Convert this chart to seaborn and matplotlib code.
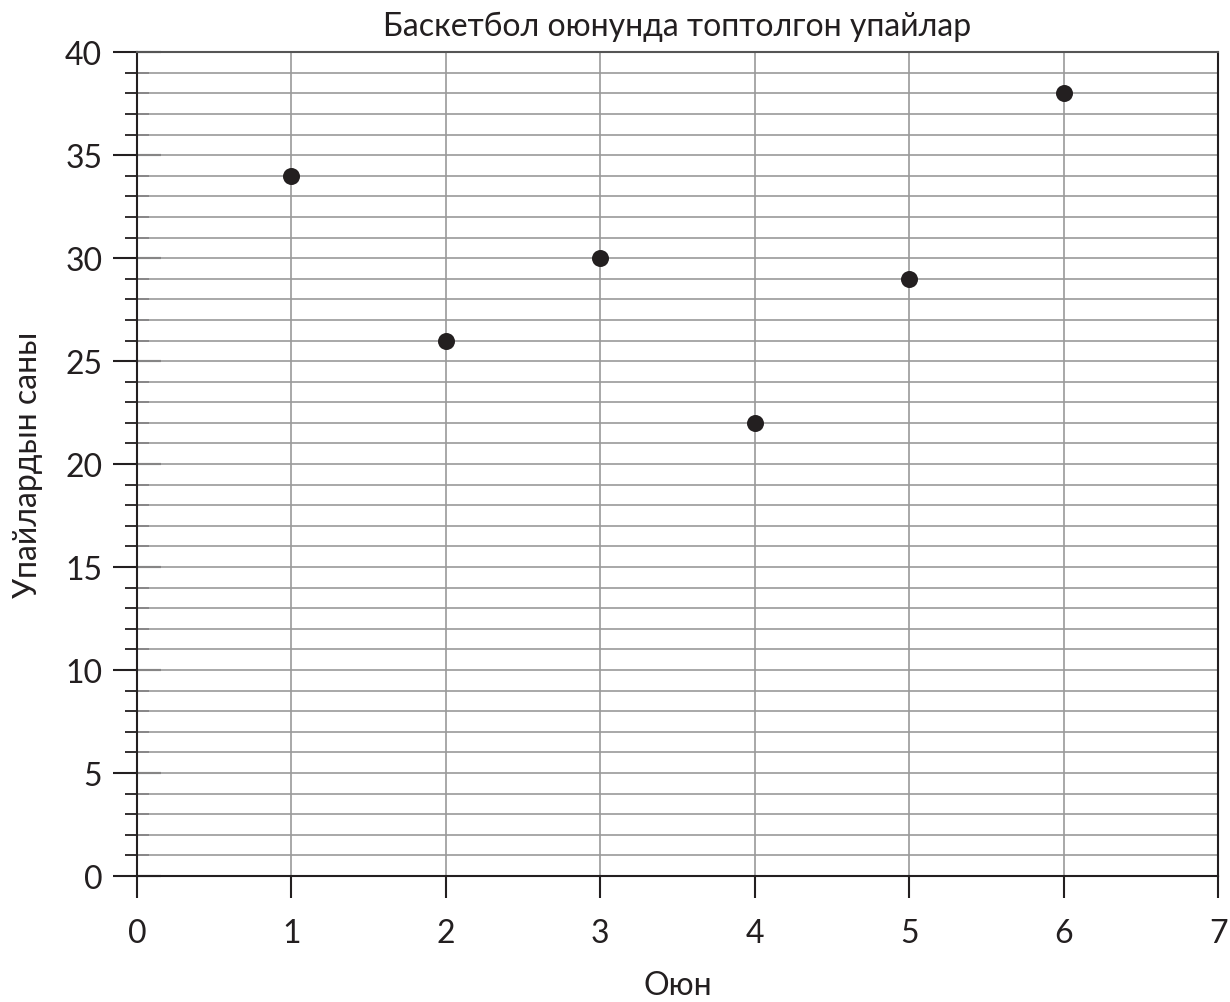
import matplotlib.pyplot as plt
import numpy as np
import pandas as pd
import seaborn as sns

games = [1, 2, 3, 4, 5, 6]
points = [34, 26, 30, 22, 29, 38]

title = "Баскетбол оюнунда топтолгон упайлар"
x_label = "Оюн"
y_label = "Упайлардын саны"

sns.set_style("white")
plt.rcParams["font.family"] = ["Lato", "DejaVu Sans"]

df = pd.DataFrame({"game": games, "points": points})

fig = plt.figure(figsize=(12.3, 10.03), dpi=100)
ax = fig.add_axes([0.1114, 0.1256, 0.8789, 0.8214])

ink = "#231f20"
grid = "#9a9a9a"

ax.set_xlim(0, 7)
ax.set_ylim(0, 40)
ax.set_xticks(range(0, 8))
ax.set_yticks(range(0, 41, 5))
ax.set_yticks(range(0, 41), minor=True)

# grid: every point on y, every game on x
for y in range(1, 40):
    ax.axhline(y, color=grid, lw=1.2, zorder=1)
for x in range(1, 7):
    ax.axvline(x, color=grid, lw=1.2, zorder=1)

sns.scatterplot(data=df, x="game", y="points", ax=ax, s=150, color=ink,
                edgecolor=ink, linewidth=0, zorder=3, clip_on=False)

for side in ["left", "bottom", "top", "right"]:
    ax.spines[side].set_color(ink)
    ax.spines[side].set_linewidth(1.5)
ax.spines["top"].set_color("#555555")

ax.tick_params(axis="y", which="both", left=True, right=False)
ax.tick_params(axis="x", which="both", bottom=True, top=False)
ax.tick_params(axis="y", which="major", direction="inout", length=34, width=1.5,
               color=ink, labelsize=23, pad=8, labelcolor=ink)
ax.tick_params(axis="y", which="minor", direction="inout", length=17, width=1.3,
               color=ink)
ax.tick_params(axis="x", which="major", direction="out", length=16, width=1.5,
               color=ink, labelsize=23, pad=14, labelcolor=ink)
ax.tick_params(axis="x", which="minor", bottom=False)

ax.set_title(title, fontsize=23, pad=12, color=ink)
ax.set_xlabel(x_label, fontsize=23, labelpad=16, color=ink)
ax.set_ylabel(y_label, fontsize=23, labelpad=16, color=ink)

fig.savefig("out.png", dpi=100)
